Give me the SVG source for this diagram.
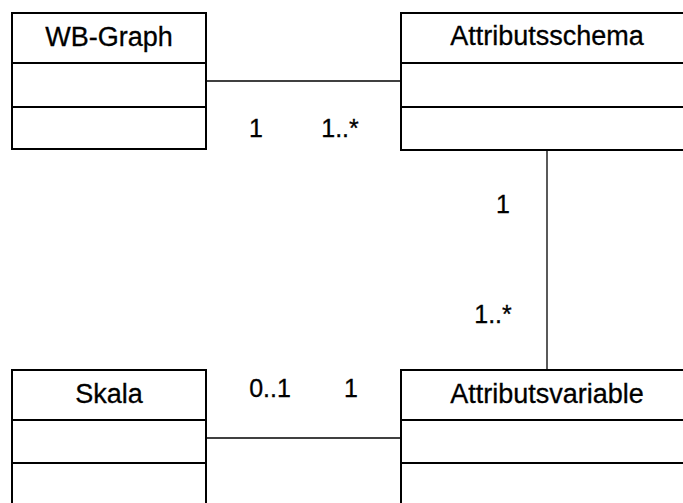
<svg xmlns="http://www.w3.org/2000/svg" width="683" height="503" viewBox="0 0 683 503">
  <style>
    .box { fill: #ffffff; stroke: #000000; stroke-width: 2; }
    .sep { stroke: #000000; stroke-width: 2; fill: none; }
    .name { font-family: "Liberation Sans", Arial, sans-serif; font-size: 27px; fill: #000000; stroke: #000000; stroke-width: 0.3; text-anchor: middle; }
    .mult { font-family: "Liberation Sans", Arial, sans-serif; font-size: 25px; fill: #000000; stroke: #000000; stroke-width: 0.3; text-anchor: middle; }
    .assoc { stroke: #000000; stroke-width: 1.3; fill: none; }
  </style>
  <rect width="683" height="503" fill="#ffffff"/>

  <!-- associations -->
  <g id="connectors">
    <line class="assoc" x1="207" y1="81" x2="401" y2="81"/>
    <line class="assoc" x1="547" y1="150" x2="547" y2="370"/>
    <line class="assoc" x1="207" y1="438" x2="401" y2="438"/>
    <text class="mult" x="256" y="137">1</text>
    <text class="mult" x="340" y="137">1..*</text>
    <text class="mult" x="503" y="213">1</text>
    <text class="mult" x="493" y="323">1..*</text>
    <text class="mult" x="270" y="397">0..1</text>
    <text class="mult" x="351" y="397">1</text>
  </g>

  <g id="wb-graph">
    <rect class="box" x="12" y="13" width="194" height="136"/>
    <line class="sep" x1="12" y1="63" x2="206" y2="63"/>
    <line class="sep" x1="12" y1="107" x2="206" y2="107"/>
    <text class="name" x="109" y="46">WB-Graph</text>
  </g>

  <g id="attributsschema">
    <rect class="box" x="401" y="13" width="292" height="137"/>
    <line class="sep" x1="401" y1="63" x2="693" y2="63"/>
    <line class="sep" x1="401" y1="107" x2="693" y2="107"/>
    <text class="name" x="547" y="45">Attributsschema</text>
  </g>

  <g id="skala">
    <rect class="box" x="12" y="370" width="194" height="150"/>
    <line class="sep" x1="12" y1="420" x2="206" y2="420"/>
    <line class="sep" x1="12" y1="463" x2="206" y2="463"/>
    <text class="name" x="109" y="403">Skala</text>
  </g>

  <g id="attributsvariable">
    <rect class="box" x="401" y="370" width="292" height="150"/>
    <line class="sep" x1="401" y1="420" x2="693" y2="420"/>
    <line class="sep" x1="401" y1="463" x2="693" y2="463"/>
    <text class="name" x="547" y="403">Attributsvariable</text>
  </g>
</svg>
